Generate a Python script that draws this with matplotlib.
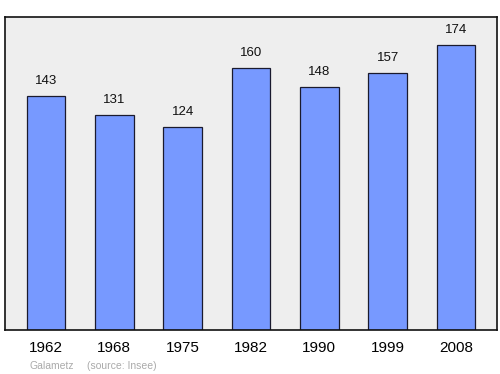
import matplotlib
matplotlib.use("Agg")
import matplotlib.pyplot as plt

plt.rcParams["font.family"] = ["Liberation Sans", "DejaVu Sans"]

years = ["1962", "1968", "1975", "1982", "1990", "1999", "2008"]
population = [143, 131, 124, 160, 148, 157, 174]

fig = plt.figure(figsize=(5.0, 3.74), dpi=100)
W, H = 500, 374
ax = fig.add_axes([5 / W, 1 - 330 / H, 492 / W, 313 / H])
ax.set_facecolor("#eeeeee")
x = list(range(len(years)))
ax.bar(x, population, width=0.57, color="#7799ff", edgecolor="#1a1a2e", linewidth=0.9, zorder=2)
for xi, v in zip(x, population):
    ax.text(xi, v + 5.5, str(v), ha="center", va="bottom", fontsize=9.5, color="#111111")
ax.set_xlim(-0.6, 6.6)
ax.set_ylim(0, 191)
ax.set_yticks([])
ax.set_xticks(x)
ax.set_xticklabels(years, fontsize=11)
ax.tick_params(axis="x", length=0, pad=8)
for s in ax.spines.values():
    s.set_linewidth(1.2)
    s.set_color("#111111")
fig.text(30 / W, 1 - 366 / H, "Galametz", fontsize=7.5, color="#aaaaaa", va="center", ha="left")
fig.text(87 / W, 1 - 366 / H, "(source: Insee)", fontsize=7.5, color="#aaaaaa", va="center", ha="left")
fig.savefig("out.png", dpi=100)
